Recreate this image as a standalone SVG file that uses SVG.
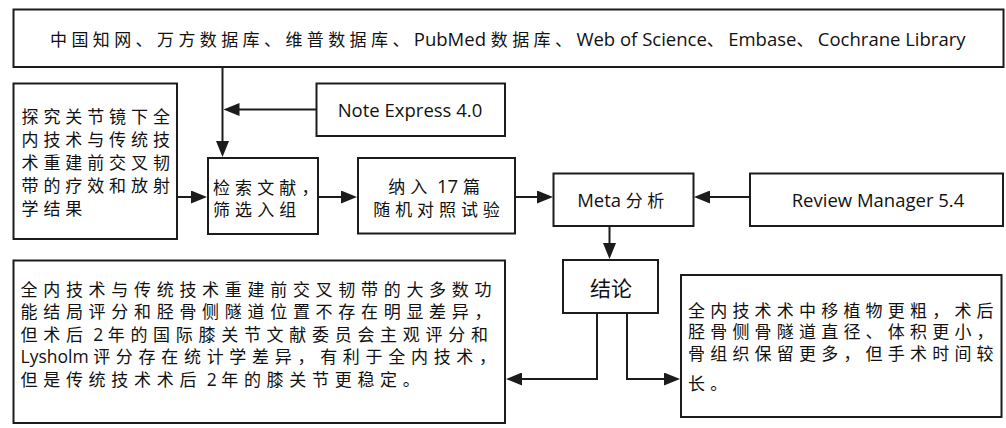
<svg xmlns="http://www.w3.org/2000/svg" width="1006" height="428" viewBox="0 0 1006 428">
  <defs>
    <style>
      .box { fill: #ffffff; stroke: #1c1c1c; stroke-width: 2; }
      .wire { fill: none; stroke: #1c1c1c; stroke-width: 2; }
      text { fill: #111111; font-family: "Open Sans", "Noto Sans CJK SC", sans-serif; font-size: 18.5px; }
      .z { font-family: "Noto Sans CJK SC", sans-serif; font-size: 17px; }
      .l { font-family: "Open Sans", sans-serif; font-size: 17.5px; letter-spacing: 0; }
      .big { font-family: "Noto Sans CJK SC", sans-serif; font-size: 21px; }
    </style>
    <marker id="head" markerUnits="userSpaceOnUse" markerWidth="16" markerHeight="13" refX="12" refY="6.5" orient="auto">
      <path d="M0,0 L16,6.5 L0,13 z" fill="#1c1c1c"/>
    </marker>
  </defs>

  <rect width="1006" height="428" fill="#ffffff"/>

  <!-- connectors -->
  <g id="connectors">
    <path class="wire" d="M222.5,67 V153" marker-end="url(#head)"/>
    <path class="wire" d="M316.5,109.5 H227.5" marker-end="url(#head)"/>
    <path class="wire" d="M177,197 H203" marker-end="url(#head)"/>
    <path class="wire" d="M318,197 H353" marker-end="url(#head)"/>
    <path class="wire" d="M515,197 H549" marker-end="url(#head)"/>
    <path class="wire" d="M750,197 H698" marker-end="url(#head)"/>
    <path class="wire" d="M609.5,226 V255" marker-end="url(#head)"/>
    <path class="wire" d="M597,313 V379 H510" marker-end="url(#head)"/>
    <path class="wire" d="M627,313 V379 H676" marker-end="url(#head)"/>
  </g>

  <!-- sources -->
  <g id="databases">
    <rect class="box" x="13.5" y="9.5" width="990" height="57.5"/>
    <text x="50" y="45.5"><tspan class="z" letter-spacing="4.4">中国知网、万方数据库、维普数据库、</tspan><tspan>PubMed </tspan><tspan class="z" letter-spacing="4.4">数据库、</tspan><tspan>Web of Science</tspan><tspan class="z" letter-spacing="4.4">、</tspan><tspan>Embase</tspan><tspan class="z" letter-spacing="4.4">、</tspan><tspan>Cochrane Library</tspan></text>
  </g>

  <g id="note-express">
    <rect class="box" x="316.5" y="83.5" width="188.5" height="52.5"/>
    <text x="337.7" y="116.7">Note Express 4.0</text>
  </g>

  <g id="aim">
    <rect class="box" x="13.5" y="83.5" width="163.5" height="155.5"/>
    <text class="z" letter-spacing="4.9">
      <tspan x="21.5" y="122.5">探究关节镜下全</tspan>
      <tspan x="21.5" y="145.5">内技术与传统技</tspan>
      <tspan x="21.5" y="168.5">术重建前交叉韧</tspan>
      <tspan x="21.5" y="191.5">带的疗效和放射</tspan>
      <tspan x="21.5" y="214.5">学结果</tspan>
    </text>
  </g>

  <g id="search">
    <rect class="box" x="208" y="158" width="110" height="76"/>
    <text class="z" letter-spacing="5.1">
      <tspan x="213" y="194">检索文献，</tspan>
      <tspan x="213" y="215.7">筛选入组</tspan>
    </text>
  </g>

  <g id="included">
    <rect class="box" x="358" y="158" width="157" height="75.5"/>
    <text text-anchor="middle">
      <tspan x="439" y="193"><tspan class="z" letter-spacing="4.9">纳入</tspan><tspan> 17 </tspan><tspan class="z" letter-spacing="4.9">篇</tspan></tspan>
      <tspan class="z" x="439" y="216" letter-spacing="4.9">随机对照试验</tspan>
    </text>
  </g>

  <g id="meta">
    <rect class="box" x="553.5" y="173.5" width="140" height="52.5"/>
    <text x="623" y="206.7" text-anchor="middle"><tspan>Meta </tspan><tspan class="z" letter-spacing="4.5">分析</tspan></text>
  </g>

  <g id="review-manager">
    <rect class="box" x="750" y="173.5" width="253" height="52.5"/>
    <text x="878" y="206.7" text-anchor="middle">Review Manager 5.4</text>
  </g>

  <g id="conclusion">
    <rect class="box" x="563" y="260" width="95" height="53"/>
    <text class="big" x="611" y="295.5" text-anchor="middle">结论</text>
  </g>

  <g id="finding-function">
    <rect class="box" x="13.5" y="260.5" width="491.5" height="162.5"/>
    <text class="z" letter-spacing="5.7">
      <tspan x="20.5" y="295.5">全内技术与传统技术重建前交叉韧带的大多数功</tspan>
      <tspan x="20.5" y="318">能结局评分和胫骨侧隧道位置不存在明显差异，</tspan>
      <tspan x="20.5" y="340.5">但术后<tspan class="l" letter-spacing="1.5"> 2 </tspan>年的国际膝关节文献委员会主观评分和</tspan>
      <tspan x="20.5" y="363"><tspan class="l">Lysholm </tspan>评分存在统计学差异，有利于全内技术，</tspan>
      <tspan x="20.5" y="385.5">但是传统技术术后<tspan class="l" letter-spacing="1.5"> 2 </tspan>年的膝关节更稳定。</tspan>
    </text>
  </g>

  <g id="finding-graft">
    <rect class="box" x="681" y="275" width="320.5" height="142"/>
    <text class="z" letter-spacing="5.2">
      <tspan x="688" y="316.5">全内技术术中移植物更粗，术后</tspan>
      <tspan x="688" y="338">胫骨侧骨隧道直径、体积更小，</tspan>
      <tspan x="688" y="359.5">骨组织保留更多，但手术时间较</tspan>
      <tspan x="688" y="389.5">长。</tspan>
    </text>
  </g>
</svg>
